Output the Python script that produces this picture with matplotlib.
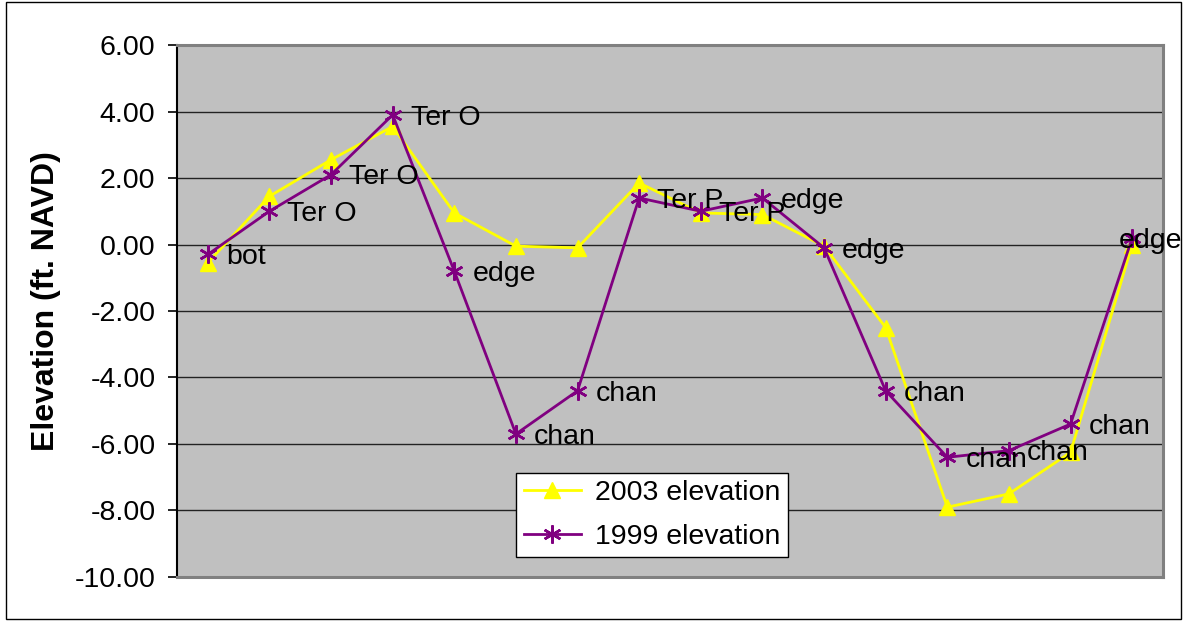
import matplotlib
matplotlib.use("Agg")
import matplotlib.pyplot as plt
from matplotlib.patches import Rectangle

plt.rcParams['font.family'] = ['Liberation Sans', 'DejaVu Sans']

# cross-section stations, in survey order
station_labels = ["bot", "Ter O", "Ter O", "Ter O", "edge", "chan", "chan",
                  "Ter P", "Ter P", "edge", "edge", "chan", "chan", "chan",
                  "chan", "edge"]
elev_2003 = [-0.55, 1.45, 2.55, 3.55, 0.95, -0.05, -0.1, 1.85, 0.95, 0.9,
             -0.05, -2.5, -7.9, -7.5, -6.25, 0.0]
elev_1999 = [-0.3, 1.0, 2.1, 3.9, -0.8, -5.7, -4.4, 1.4, 1.0, 1.4,
             -0.1, -4.4, -6.4, -6.2, -5.4, 0.2]
y_ticks = [-10, -8, -6, -4, -2, 0, 2, 4, 6]

x = list(range(len(elev_1999)))

fig = plt.figure(figsize=(11.83, 6.21), dpi=100)
ax = fig.add_axes([0.1496, 0.0709, 0.8335, 0.8566])
ax.set_facecolor('#c0c0c0')

ax.plot(x, elev_2003, color='#ffff00', lw=2, marker='^', ms=11,
        mec='#ffff00', mfc='#ffff00', label='2003 elevation', zorder=3)
ax.plot(x, elev_1999, color='#800080', lw=2, marker=(6, 2, 0), ms=13,
        mew=1.8, mec='#800080', label='1999 elevation', zorder=4)

# point labels on the 1999 line
for i, (xi, yi, txt) in enumerate(zip(x, elev_1999, station_labels)):
    dx = -10 if i == len(x) - 1 else 13
    ax.annotate(txt, (xi, yi), xytext=(dx, -7), textcoords='offset points',
                ha='left', va='baseline', fontsize=20.5, color='black',
                zorder=6, annotation_clip=False)

ax.set_xlim(-0.5, len(x) - 0.5)
ax.set_ylim(-10, 6)
ax.set_yticks(y_ticks)
ax.set_yticklabels([f"{v:.2f}" for v in y_ticks], fontsize=20.5)
ax.set_xticks([])
ax.yaxis.grid(True, color='#222222', lw=1)
ax.set_axisbelow(True)
ax.tick_params(axis='y', direction='out', length=6.5, width=1.2, pad=9)

for side in ['top', 'right', 'bottom']:
    ax.spines[side].set_color('#808080')
    ax.spines[side].set_linewidth(2.2)
ax.spines['left'].set_color('black')
ax.spines['left'].set_linewidth(1.5)

ax.set_ylabel("Elevation (ft. NAVD)", fontsize=23, fontweight='bold')
ax.yaxis.set_label_coords(-0.118, 0.519)

leg = ax.legend(loc='lower left', bbox_to_anchor=(0.344, 0.037), fontsize=20.5,
                numpoints=1, fancybox=False, framealpha=1, edgecolor='black',
                handlelength=2.0, borderpad=0.26, labelspacing=0.63,
                handletextpad=0.5, borderaxespad=0)
leg.get_frame().set_linewidth(1)

fig.patches.append(Rectangle((0.005, 0.003), 0.993, 0.994,
                             transform=fig.transFigure, fill=False,
                             edgecolor='black', lw=1))

fig.savefig("out.png", dpi=100)
